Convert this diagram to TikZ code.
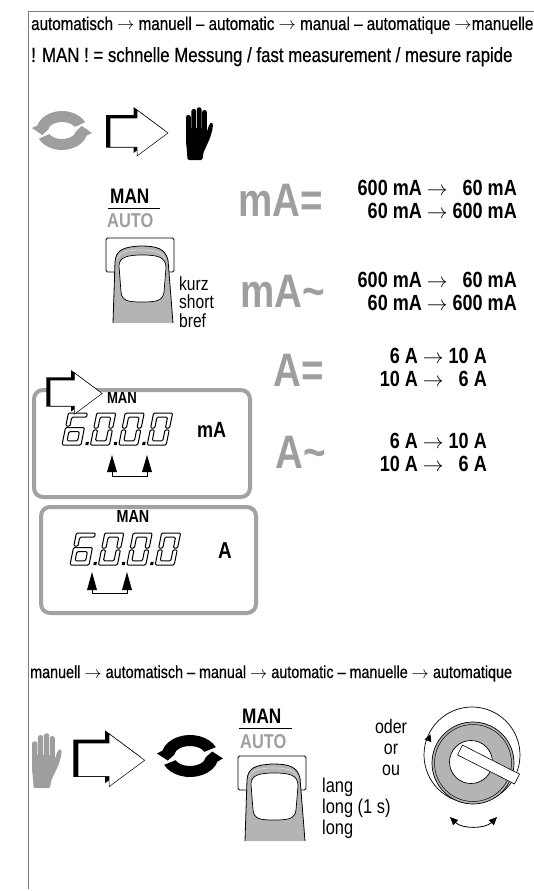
\documentclass[tikz,border=0pt]{standalone}
\usepackage{fontspec}
\setmainfont{Liberation Sans}[FakeStretch=0.82]
\newfontfamily\medfont{Liberation Sans}[FakeStretch=0.82, FakeBold=0.6, Ligatures=TeX]
\usetikzlibrary{arrows.meta}

\definecolor{framegray}{RGB}{125,125,125}
\definecolor{symgray}{RGB}{158,158,158}
\definecolor{boxgray}{RGB}{162,162,162}
\definecolor{fingergray}{RGB}{180,180,180}

\newcommand{\fsz}[2]{\fontsize{#1}{#2}\selectfont}

% outlined seven-segment figures (local units, y pointing up)
\newcommand{\dzero}{%
  \filldraw[seg] (0,16.9) -- (0,32) -- (19,32) -- (19,16.9) -- (14.8,16.9) -- (14.8,27.8)
    -- (4.2,27.8) -- (4.2,16.9) -- cycle;
  \filldraw[seg] (0,15.1) -- (0,0) -- (19,0) -- (19,15.1) -- (14.8,15.1) -- (14.8,4.2)
    -- (4.2,4.2) -- (4.2,15.1) -- cycle;}
\newcommand{\dsix}{%
  \filldraw[seg] (0,18.9) -- (0,32) -- (19,32) -- (19,27.8) -- (4.2,27.8) -- (4.2,18.9) -- cycle;
  \filldraw[seg, even odd rule] (0,0) rectangle (19,17.5) (4.2,4.2) rectangle (14.8,13.3);}
\newcommand{\dpoint}{\fill (23.3,0) rectangle (26.3,3.2);}
\newcommand{\lcddigit}[3]{%
  \begin{scope}[shift={(#1,#2)}, y=1pt, xslant=0.2]
    #3
  \end{scope}}

% pair of rotating arrows: centre x, y, outer radii, inner radii, colour
\newcommand{\cycleicon}[7]{%
  \begin{scope}[shift={(#1,#2)}, y=1pt]
    \fill[#7] (25:#3 and #4) arc[start angle=25, end angle=165, x radius=#3, y radius=#4]
      -- ({-#3-4.5},2.5) -- ({-(#3+#5)/2},-4.5) -- (174:#5 and #6)
      arc[start angle=174, end angle=25, x radius=#5, y radius=#6] -- cycle;
    \fill[#7] (205:#3 and #4) arc[start angle=205, end angle=345, x radius=#3, y radius=#4]
      -- ({#3+4.5},-2.5) -- ({(#3+#5)/2},4.5) -- (354:#5 and #6)
      arc[start angle=354, end angle=205, x radius=#5, y radius=#6] -- cycle;
  \end{scope}}

% outlined arrow with a heavy shadow edge: origin, scale
\newcommand{\switchicon}[3]{%
  \begin{scope}[shift={(#1,#2)}, scale=#3]
    \fill[black] (-4,-3) -- (23.5,-3) -- (23.5,-11) -- (54.5,12) -- (23.5,35)
      -- (23.5,29.5) -- (-4,29.5) -- cycle;
    \filldraw[fill=white, draw=black, line width=0.5]
      (0,0) -- (27,0) -- (27,-8) -- (58,15) -- (27,38) -- (27,29) -- (0,29) -- cycle;
  \end{scope}}

% raised hand: origin, x scale, y scale, colour
\newcommand{\handicon}[5]{%
  \begin{scope}[shift={(#1,#2)}, xscale=#3, yscale=#4]
    \fill[#5, rounded corners=2.2] (0,26) -- (0,8) -- (4.8,8) -- (4.8,26) -- cycle;
    \fill[#5, rounded corners=2.2] (5.4,24) -- (5.4,2) -- (10.2,2) -- (10.2,24) -- cycle;
    \fill[#5, rounded corners=2.2] (10.8,24) -- (10.8,0.3) -- (15.6,0.3) -- (15.6,24) -- cycle;
    \fill[#5, rounded corners=2.2] (16.2,24) -- (16.2,3) -- (20.8,3) -- (20.8,24) -- cycle;
    \fill[#5, rounded corners=1.5] (0,21) -- (20.8,21) -- (20.8,25) -- (23.3,17.5)
      -- (25.4,15) -- (27,16.5) -- (26.6,22) -- (24,31) -- (20,40) -- (17.3,46)
      -- (16.5,53) -- (1.5,53) -- (1,45) -- (0,35) -- cycle;
  \end{scope}}

% key pressed by a finger: top-left corner of the key
\newcommand{\fingerbtn}[2]{%
  \begin{scope}[shift={(#1,#2)}]
    \draw[fill=white, line width=0.8, rounded corners=1.5] (0,0) rectangle (68,34);
    \draw[fill=fingergray, line width=0.8] (7,85) -- (9,24)
      .. controls (10,12) and (17,9) .. (34,8) .. controls (52,8) and (59,11) .. (62,22) -- (67,85);
    \draw[white!75!gray, line width=0.6] (11,21) .. controls (14,14) and (22,12) .. (35,12)
      .. controls (49,12) and (56,14) .. (59,21);
    \draw[fill=white, line width=0.7] (13,28) .. controls (13,19) and (22,17) .. (36,17)
      .. controls (52,17) and (60,19) .. (60,30) -- (58,54)
      .. controls (57,63) and (50,64) .. (36,64) .. controls (22,64) and (16,63) .. (15,54) -- cycle;
  \end{scope}}

\begin{document}
\begin{tikzpicture}[x=1pt, y=-1pt,
  seg/.style={fill=white, draw=black, line width=1, line join=round, rounded corners=1.2},
  hdr/.style={inner sep=0pt, anchor=base west},
  bigsym/.style={inner sep=0pt, anchor=base west, text=symgray, font=\bfseries\fsz{47}{47}},
  vals/.style={inner sep=0pt, anchor=base east, font=\bfseries\fsz{22}{23}},
  note/.style={inner sep=0pt, anchor=base west, font=\fsz{19}{19}},
  lcdbox/.style={draw=boxgray, line width=4, rounded corners=9},
  uparrow/.style={fill=black},
  bracket/.style={line width=0.8}]
\useasboundingbox (0,0) rectangle (534,891);

% page frame
\draw[framegray, line width=1] (28,889) |- (534,12);

% headings
\node[hdr, font=\medfont\fsz{18.5}{18.5}] (h1) at (31,30)
  {automatisch $\rightarrow$ manuell – automatic $\rightarrow$ manual – automatique $\rightarrow$manuelle};
\node[hdr, font=\medfont\fsz{20.5}{20.5}] (h2) at (31,62)
  {! MAN ! = schnelle Messung / fast measurement / mesure rapide};

% automatic -> manual symbols
\cycleicon{62}{130.5}{25.5}{19.5}{14}{8.5}{symgray}
\switchicon{110}{118}{1}
\handicon{186}{107}{1}{1}{black}

% MAN / AUTO key, short press
\node[hdr, font=\bfseries\fsz{21}{21}] (man1) at (110,203) {MAN};
\draw[line width=1] (108,208) -- (160,208);
\node[hdr, font=\bfseries\fsz{20}{20}, text=symgray] (auto1) at (107,227) {AUTO};
\fingerbtn{106}{238}
\node[note] (k1) at (179,290) {kurz};
\node[note] (k2) at (179,308.5) {short};
\node[note] (k3) at (179,327) {bref};

% ranges
\node[bigsym] (s1) at (238,216) {mA=};
\node[vals] (r1) at (517,195) {\begin{tabular}[t]{@{}r@{\hspace{5pt}}c@{\hspace{5pt}}r@{}}600 mA & $\rightarrow$ & 60 mA\\ 60 mA & $\rightarrow$ & 600 mA\end{tabular}};
\node[bigsym] (s2) at (240,307) {mA\char`~};
\node[vals] (r2) at (517,287) {\begin{tabular}[t]{@{}r@{\hspace{5pt}}c@{\hspace{5pt}}r@{}}600 mA & $\rightarrow$ & 60 mA\\ 60 mA & $\rightarrow$ & 600 mA\end{tabular}};
\node[bigsym] (s3) at (273,386) {A=};
\node[vals] (r3) at (487,363) {\begin{tabular}[t]{@{}r@{\hspace{5pt}}c@{\hspace{5pt}}r@{}}6 A & $\rightarrow$ & 10 A\\ 10 A & $\rightarrow$ & 6 A\end{tabular}};
\node[bigsym] (s4) at (275,468) {A\char`~};
\node[vals] (r4) at (487,448) {\begin{tabular}[t]{@{}r@{\hspace{5pt}}c@{\hspace{5pt}}r@{}}6 A & $\rightarrow$ & 10 A\\ 10 A & $\rightarrow$ & 6 A\end{tabular}};

% display, mA range
\draw[lcdbox] (34,390) rectangle (250,497);
\node[inner sep=0pt, anchor=base, font=\bfseries\fsz{16}{16}] (d1man) at (122,403) {MAN};
\lcddigit{62}{445}{\dsix\dpoint}
\lcddigit{90.4}{445}{\dzero\dpoint}
\lcddigit{118.8}{445}{\dzero\dpoint}
\lcddigit{147.2}{445}{\dzero}
\node[hdr, font=\bfseries\fsz{22}{22}] (d1unit) at (197,437) {mA};
\fill[uparrow] (107,472) -- (112,455) -- (117,472) -- cycle;
\fill[uparrow] (142,472) -- (147,455) -- (152,472) -- cycle;
\draw[bracket] (112,472) -- (112,476) -- (147,476) -- (147,472);
\switchicon{50}{380}{0.9}

% display, A range
\draw[lcdbox] (41,507) rectangle (256,613);
\node[inner sep=0pt, anchor=base, font=\bfseries\fsz{17.5}{17.5}] (d2man) at (133,522) {MAN};
\lcddigit{70}{565}{\dsix\dpoint}
\lcddigit{98.4}{565}{\dzero\dpoint}
\lcddigit{126.8}{565}{\dzero\dpoint}
\lcddigit{155.2}{565}{\dzero}
\node[hdr, font=\bfseries\fsz{23}{23}] (d2unit) at (218,558) {A};
\fill[uparrow] (87,590) -- (92,572) -- (97,590) -- cycle;
\fill[uparrow] (122,590) -- (127,572) -- (132,590) -- cycle;
\draw[bracket] (92,590) -- (92,593) -- (127,593) -- (127,590);

% manual -> automatic
\node[hdr, font=\medfont\fsz{17.5}{17.5}] (h3) at (30,678)
  {manuell $\rightarrow$ automatisch – manual $\rightarrow$ automatic – manuelle $\rightarrow$ automatique};
\handicon{32}{733}{1.1}{1.04}{symgray}
\switchicon{78}{743}{1.15}
\cycleicon{190}{756}{28.5}{21}{16}{10}{black}

\node[hdr, font=\bfseries\fsz{21}{21}] (man2) at (242,723) {MAN};
\draw[line width=1] (239,728) -- (292,728);
\node[hdr, font=\bfseries\fsz{20}{20}, text=symgray] (auto2) at (240,748) {AUTO};
\fingerbtn{238}{756}
\node[note, font=\fsz{20}{20}] (l1) at (322,792) {lang};
\node[note, font=\fsz{20}{20}] (l2) at (322,813) {long (1 s)};
\node[note, font=\fsz{20}{20}] (l3) at (322,834) {long};

\node[inner sep=0pt, anchor=base, font=\fsz{19.5}{19.5}] (o1) at (391,733) {oder};
\node[inner sep=0pt, anchor=base, font=\fsz{19.5}{19.5}] (o2) at (391,754) {or};
\node[inner sep=0pt, anchor=base, font=\fsz{19.5}{19.5}] (o3) at (391,775) {ou};

% rotary switch
\coordinate (knob) at (472,755);
\draw[line width=0.7] (knob) circle[radius=48];
\fill (430.5,734.3) -- (424.5,739.4) -- (431.3,742.2) -- cycle;
\filldraw[fill=fingergray, draw=black, line width=0.7] (473,763) circle[radius=41];
\draw[line width=0.5] (473,763) circle[radius=38.5];
\filldraw[fill=white, draw=black, line width=0.7] (471,762) circle[radius=21.5];
\filldraw[fill=white, draw=black, line width=0.6, rotate around={-27:(460,750)}]
  (460,744.5) rectangle (524,755.5);
\draw[line width=0.8, {Triangle[length=8,width=7]}-{Triangle[length=8,width=7]}]
  (450,817) .. controls (462,829) and (485,829) .. (497,817);
\end{tikzpicture}
\end{document}
